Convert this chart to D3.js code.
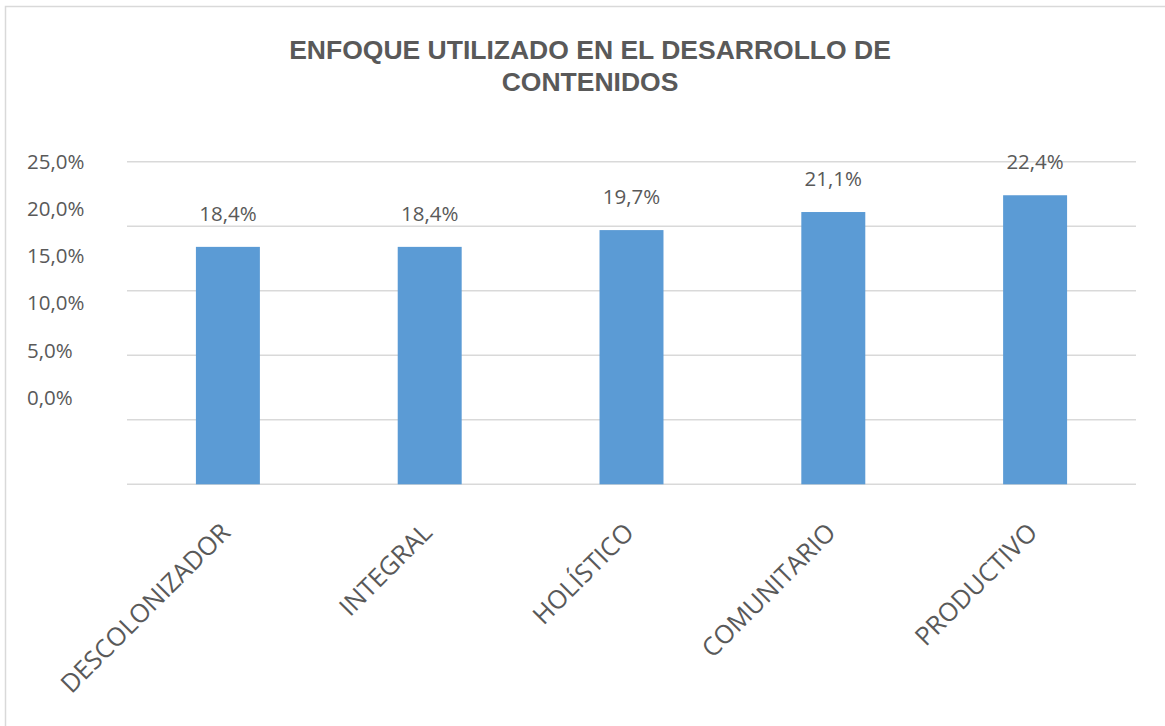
<!DOCTYPE html>
<html>
<head>
<meta charset="utf-8">
<script src="https://cdn.jsdelivr.net/npm/d3@7"></script>
<style>
  body { margin: 0; background: #fff; }
  svg { display: block; }
  text { font-family: "Open Sans", sans-serif; fill: #595959; }
  .title { font-family: "Liberation Sans", Arial, sans-serif; font-weight: bold; font-size: 26.5px; }
</style>
</head>
<body>
<script>
// Data
var categories = ["DESCOLONIZADOR", "INTEGRAL", "HOLÍSTICO", "COMUNITARIO", "PRODUCTIVO"];
var values     = [18.4, 18.4, 19.7, 21.1, 22.4];
var yTicks     = [0, 5, 10, 15, 20, 25];
var titleLines = ["ENFOQUE UTILIZADO EN EL DESARROLLO DE", "CONTENIDOS"];

var width = 1165, height = 726;

var svg = d3.select("body").append("svg")
  .attr("width", width)
  .attr("height", height);

// Chart frame
svg.append("rect")
  .attr("x", 5.5).attr("y", 6.5)
  .attr("width", width).attr("height", height)
  .attr("fill", "#fff")
  .attr("stroke", "#d9d9d9")
  .attr("stroke-width", 1.5);

// Title
svg.append("text")
  .attr("class", "title")
  .attr("text-anchor", "middle")
  .selectAll("tspan")
  .data(titleLines)
  .join("tspan")
    .attr("x", 590)
    .attr("y", function(d, i){ return 59 + i * 32; })
    .text(function(d){ return d; });

// Scales
var x = d3.scaleBand()
  .domain(categories)
  .range([127, 1136])
  .paddingInner(0.683)
  .paddingOuter(0.3415);

var y = d3.scaleLinear()
  .domain([0, 25])
  .range([484.3, 161.7]);

// the tick labels sit on their own spacing in the original
var yLabel = d3.scaleLinear()
  .domain([0, 25])
  .range([397.7, 161.7]);

var fmt = function(v, dec){ return v.toFixed(dec).replace(".", ",") + "%"; };

// Gridlines
svg.append("g")
  .selectAll("line")
  .data(yTicks)
  .join("line")
    .attr("x1", 127).attr("x2", 1136)
    .attr("y1", function(d){ return y(d); })
    .attr("y2", function(d){ return y(d); })
    .attr("stroke", "#d9d9d9")
    .attr("stroke-width", 1.5);

// Y labels
svg.append("g")
  .selectAll("text")
  .data(yTicks)
  .join("text")
    .attr("x", 27)
    .attr("y", function(d){ return yLabel(d); })
    .attr("dy", "0.35em")
    .attr("font-size", 20.5)
    .text(function(d){ return fmt(d, 1); });

// Bars
svg.append("g")
  .selectAll("rect")
  .data(values)
  .join("rect")
    .attr("x", function(d, i){ return x(categories[i]); })
    .attr("y", function(d){ return y(d); })
    .attr("width", x.bandwidth())
    .attr("height", function(d){ return y(0) - y(d); })
    .attr("fill", "#5b9bd5");

// Data labels
svg.append("g")
  .selectAll("text")
  .data(values)
  .join("text")
    .attr("x", function(d, i){ return x(categories[i]) + x.bandwidth() / 2; })
    .attr("y", function(d){ return y(d) - 26; })
    .attr("text-anchor", "middle")
    .attr("font-size", 20.5)
    .attr("fill", "#404040")
    .text(function(d){ return fmt(d, 1); });

// X labels
svg.append("g")
  .selectAll("text")
  .data(categories)
  .join("text")
    .attr("text-anchor", "end")
    .attr("font-size", 25.5)
    .attr("transform", function(d){
      return "translate(" + (x(d) + x.bandwidth() / 2 + 4) + ",534) rotate(-45)";
    })
    .text(function(d){ return d; });
</script>
</body>
</html>
